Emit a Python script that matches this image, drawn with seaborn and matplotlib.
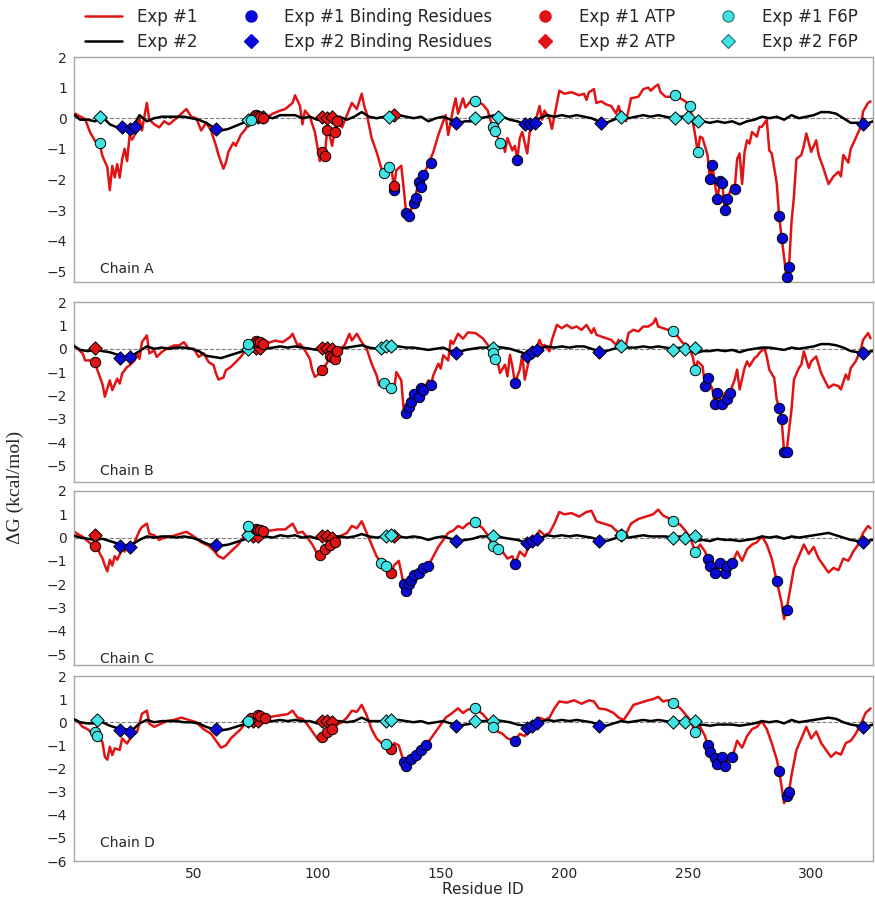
import numpy as np
import pandas as pd
import matplotlib
matplotlib.use("Agg")
import matplotlib.pyplot as plt
from matplotlib.lines import Line2D
import seaborn as sns

sns.set_style("white")
plt.rcParams["font.family"] = ["DejaVu Sans"]

# ---------------------------------------------------------------- data
CHAINS = ["A", "B", "C", "D"]

# Exp #1 per-residue binding free energy (residue, dG)
A_EXP1_RES = [1, 3, 6, 8, 10, 12, 13, 15, 16, 17, 18, 19, 20, 21, 22, 23, 24, 25, 27, 28, 29, 31, 32, 34, 36, 38, 40, 43, 47, 49,
              51, 53, 55, 57, 59, 60, 62, 63, 64, 66, 67, 69, 71, 73, 75, 79, 82, 85, 87, 90, 91, 93, 94, 95, 97, 99, 100, 101, 102, 103,
              104, 105, 106, 107, 108, 110, 112, 114, 116, 118, 119, 120, 122, 124, 126, 127, 128, 129, 130, 131, 132, 134, 135, 136, 137, 139, 140, 141, 142, 143,
              145, 146, 147, 149, 151, 152, 153, 155, 156, 157, 159, 160, 162, 164, 167, 169, 171, 172, 174, 175, 176, 177, 179, 180, 181, 182, 183, 185, 186, 188,
              190, 191, 192, 194, 195, 198, 200, 203, 206, 208, 209, 210, 212, 213, 215, 217, 219, 221, 222, 223, 225, 226, 227, 230, 232, 234, 235, 237, 238, 239,
              241, 243, 245, 247, 249, 251, 252, 253, 254, 255, 256, 258, 259, 260, 261, 262, 263, 264, 265, 266, 268, 269, 270, 271, 272, 273, 274, 275, 276, 278,
              279, 280, 282, 283, 284, 286, 287, 288, 290, 291, 292, 293, 294, 296, 297, 298, 300, 302, 303, 305, 307, 309, 311, 312, 313, 315, 316, 318, 320, 321,
              323, 324]
A_EXP1_DG = [0.2, 0.1, -0.03, -0.46, -0.74, -0.85, -1.23, -1.6, -2.35, -1.56, -1.93, -1.5, -1.94, -1.34, -1.0, -1.4, -0.58, -0.7, -0.4, 0.0, -0.4, 0.5, -0.05, -0.2, -0.3, -0.1, -0.2, 0.0, 0.3, 0.05,
             0.0, -0.4, -0.15, -0.4, -0.9, -1.2, -1.65, -1.45, -1.1, -0.8, -0.9, -0.55, -0.35, -0.05, 0.1, 0.0, 0.15, 0.25, 0.3, 0.5, 0.75, 0.4, -0.2, 0.25, 0.05, -0.45, -0.9, -1.4, -1.1, -1.25,
             -0.4, -0.55, -0.9, -0.45, -0.1, -0.3, 0.1, 0.5, 0.3, 0.8, 0.4, 0.15, -0.65, -1.1, -1.65, -1.85, -1.7, -1.6, -1.55, -2.3, -1.7, -1.55, -2.3, -3.1, -3.2, -2.78, -2.45, -2.1, -2.3, -1.85,
             -1.5, -1.3, -1.1, -0.55, -0.1, 0.1, -0.55, 0.3, 0.65, 0.15, 0.65, 0.35, 0.55, 0.57, 0.45, 0.25, -0.3, -0.42, -0.8, -0.7, -1.1, -0.65, -1.05, -0.9, -1.33, -0.65, -0.45, -1.15, -0.45, -0.2,
             0.4, -0.05, 0.25, 0.0, -0.35, 0.9, 0.8, 0.85, 0.75, 0.8, 0.6, 0.85, 0.95, 0.5, 0.55, 0.45, 0.4, 0.15, 0.4, 0.1, -0.1, 0.25, 0.65, 0.7, 0.95, 1.0, 0.9, 1.05, 1.1, 0.85,
             0.7, 0.7, 0.75, 0.65, 0.55, 0.4, -0.1, -0.55, -1.1, -0.6, -0.65, -1.2, -2.0, -1.55, -2.15, -2.65, -2.1, -2.15, -3.0, -2.65, -2.2, -2.3, -1.33, -1.15, -2.15, -1.1, -0.72, -0.83, -0.45, -0.6,
             -0.28, -0.28, -0.05, -1.05, -1.15, -2.1, -3.2, -3.9, -5.2, -4.85, -3.4, -2.55, -1.33, -1.2, -0.9, -0.5, -1.1, -0.72, -1.2, -1.65, -2.15, -1.9, -1.75, -1.9, -1.2, -1.45, -1.0, -0.65, -0.28, 0.22,
             0.5, 0.55]

B_EXP1_RES = [1, 3, 5, 6, 8, 10, 11, 13, 14, 16, 17, 19, 20, 21, 23, 24, 26, 27, 28, 29, 31, 32, 34, 35, 37, 39, 42, 44, 46, 48,
              50, 52, 54, 56, 58, 59, 60, 62, 63, 65, 67, 69, 71, 72, 75, 78, 81, 83, 86, 89, 90, 92, 93, 95, 97, 98, 99, 101, 102, 104,
              105, 106, 107, 108, 109, 111, 113, 114, 116, 118, 120, 122, 124, 125, 127, 128, 130, 131, 132, 134, 135, 136, 137, 138, 139, 141, 142, 143, 145, 146,
              147, 149, 150, 151, 153, 154, 155, 157, 159, 161, 164, 167, 169, 171, 172, 173, 174, 176, 177, 178, 179, 180, 182, 183, 184, 186, 187, 188, 190, 191,
              192, 194, 195, 197, 199, 201, 203, 205, 207, 209, 211, 212, 213, 215, 217, 219, 221, 222, 223, 225, 226, 228, 230, 232, 234, 236, 237, 238, 240, 242,
              244, 246, 248, 250, 252, 253, 254, 256, 257, 258, 260, 261, 262, 264, 265, 266, 267, 269, 270, 271, 273, 274, 275, 277, 278, 279, 281, 282, 283, 285,
              286, 287, 288, 289, 290, 291, 292, 293, 295, 296, 297, 299, 300, 302, 304, 307, 309, 311, 312, 314, 315, 316, 318, 320, 321, 323, 324]
B_EXP1_DG = [0.14, 0.0, -0.2, -0.5, -0.5, -0.57, -0.92, -1.5, -2.05, -1.35, -1.77, -1.28, -1.49, -1.06, -0.78, -0.71, -0.5, -0.2, -0.43, 0.28, 0.57, -0.2, -0.07, -0.35, -0.14, 0.0, 0.14, 0.14, 0.28, 0.0,
             0.0, -0.35, -0.2, -0.57, -0.7, -1.06, -1.32, -1.23, -0.92, -0.78, -0.57, -0.35, -0.07, 0.2, 0.35, 0.21, 0.28, 0.35, 0.28, 0.5, 0.64, 0.14, 0.21, -0.07, -0.43, -0.92, -1.2, -1.06, -0.92, -0.6,
             -0.3, -0.35, -0.45, -0.1, 0.0, 0.14, 0.64, 0.35, 0.64, 0.28, 0.0, -0.64, -1.13, -1.56, -1.45, -1.56, -1.7, -1.84, -1.0, -1.35, -2.62, -2.75, -2.5, -2.27, -1.92, -2.06, -1.7, -1.77, -1.35, -1.56,
             -1.13, -0.64, -0.85, -0.28, -0.5, 0.35, 0.21, 0.64, 0.43, 0.7, 0.67, 0.45, 0.17, -0.18, -0.45, -0.54, -1.04, -0.68, -1.18, -0.26, -0.75, -1.46, -0.89, -0.26, -1.32, -0.33, 0.03, -0.18, 0.38, 0.1,
             0.17, -0.11, 0.38, 1.02, 0.88, 1.02, 0.88, 0.95, 0.81, 1.02, 0.67, 0.88, 0.6, 0.52, 0.45, 0.38, 0.17, 0.38, -0.04, 0.17, 0.67, 0.81, 0.74, 0.95, 0.95, 1.09, 1.3, 0.95, 0.88, 0.81,
             0.74, 0.52, 0.24, 0.17, -0.33, -0.89, -0.54, -0.75, -1.6, -1.25, -1.74, -2.38, -1.89, -2.38, -1.89, -2.17, -1.89, -1.32, -0.89, -1.74, -0.82, -0.54, -0.75, -0.4, -0.33, -0.18, 0.03, -0.33, -0.89, -1.25,
             -2.17, -2.52, -3.02, -4.4, -4.4, -3.5, -2.6, -1.32, -0.82, -0.68, -0.11, -0.82, -0.54, -0.33, -1.04, -1.67, -1.53, -1.6, -1.74, -1.1, -1.32, -0.82, -0.54, -0.04, 0.38, 0.67, 0.45]

C_EXP1_RES = [1, 3, 5, 8, 10, 11, 12, 13, 14, 15, 16, 17, 18, 19, 21, 22, 23, 25, 27, 28, 29, 31, 32, 34, 36, 38, 41, 44, 47, 50,
              53, 56, 58, 60, 62, 64, 66, 68, 70, 72, 75, 78, 81, 84, 87, 90, 92, 94, 96, 98, 100, 101, 103, 105, 107, 109, 112, 114, 116, 118,
              120, 122, 124, 126, 128, 130, 131, 133, 135, 136, 137, 139, 141, 143, 145, 147, 149, 151, 153, 155, 157, 159, 161, 164, 167, 169, 171, 173, 175, 177,
              179, 180, 182, 184, 186, 188, 190, 192, 194, 196, 198, 200, 203, 206, 209, 211, 213, 216, 219, 221, 223, 225, 227, 230, 233, 236, 238, 240, 242, 244,
              247, 249, 251, 253, 255, 257, 258, 259, 260, 261, 263, 265, 266, 268, 270, 272, 274, 276, 278, 280, 282, 284, 286, 288, 289, 290, 291, 293, 295, 297,
              299, 301, 303, 305, 307, 309, 311, 313, 315, 317, 319, 321, 323, 324]
C_EXP1_DG = [0.3, 0.15, 0.04, -0.24, -0.36, -0.4, -0.7, -0.88, -1.2, -1.45, -0.95, -1.2, -0.8, -0.95, -0.5, -0.6, -0.3, -0.45, 0.04, 0.3, 0.45, 0.6, 0.16, 0.1, -0.1, 0.0, 0.05, 0.15, 0.25, 0.05,
             -0.2, -0.35, -0.55, -0.8, -0.9, -0.7, -0.5, -0.3, 0.0, 0.5, 0.35, 0.3, 0.3, 0.35, 0.35, 0.6, 0.2, 0.25, 0.0, -0.3, -0.7, -0.75, -0.5, -0.3, -0.2, 0.05, 0.2, 0.5, 0.4, 0.7,
             0.2, -0.3, -0.8, -1.1, -1.2, -1.5, -1.2, -1.0, -2.0, -2.3, -2.0, -1.6, -1.5, -1.3, -1.2, -0.8, -0.4, -0.1, 0.2, 0.3, 0.5, 0.4, 0.6, 0.65, 0.4, 0.1, -0.35, -0.5, -0.6, -0.9,
             -0.8, -1.15, -0.6, -0.8, -0.3, -0.1, 0.3, 0.1, 0.2, 0.6, 1.1, 1.0, 1.05, 0.9, 1.1, 1.15, 0.7, 0.6, 0.5, 0.3, 0.1, 0.15, 0.6, 0.8, 0.9, 1.0, 1.2, 0.95, 0.85, 0.7,
             0.55, 0.3, 0.0, -0.6, -0.3, -0.6, -0.9, -1.2, -1.0, -1.5, -1.1, -1.5, -1.2, -1.1, -0.6, -1.0, -0.5, -0.3, -0.2, 0.05, -0.3, -0.9, -1.85, -2.8, -3.5, -3.1, -2.5, -1.3, -0.8, -0.3,
             -0.7, -0.4, -0.9, -1.2, -1.5, -1.3, -1.4, -0.9, -1.0, -0.6, -0.3, 0.2, 0.5, 0.4]

D_EXP1_RES = [1, 3, 5, 7, 9, 10, 11, 13, 14, 15, 16, 17, 18, 20, 21, 23, 25, 27, 28, 29, 31, 32, 34, 36, 39, 42, 45, 48, 51, 54,
              57, 59, 61, 63, 65, 67, 69, 71, 73, 76, 79, 82, 85, 88, 90, 92, 94, 96, 98, 100, 102, 104, 106, 108, 110, 112, 114, 116, 118, 120,
              122, 124, 126, 128, 130, 131, 133, 135, 136, 138, 140, 142, 144, 146, 148, 150, 152, 154, 157, 159, 161, 164, 167, 169, 171, 173, 175, 177, 180, 182,
              184, 186, 188, 190, 192, 194, 196, 198, 201, 204, 207, 210, 212, 214, 217, 220, 222, 224, 226, 228, 231, 234, 236, 238, 240, 242, 244, 247, 249, 251,
              253, 255, 257, 258, 259, 260, 261, 262, 264, 265, 266, 268, 270, 272, 274, 276, 278, 280, 282, 284, 286, 287, 289, 290, 291, 292, 294, 296, 298, 300,
              302, 304, 306, 308, 310, 312, 314, 316, 318, 320, 322, 324]
D_EXP1_DG = [0.16, 0.05, -0.2, -0.3, -0.5, -0.42, -0.6, -0.85, -1.5, -1.62, -1.06, -1.42, -1.13, -1.2, -0.7, -0.92, -0.56, -0.42, -0.06, 0.37, 0.5, -0.06, -0.2, -0.1, 0.05, 0.1, 0.2, 0.1, 0.0, -0.3,
             -0.5, -0.8, -1.1, -1.0, -0.7, -0.5, -0.3, 0.0, 0.2, 0.3, 0.2, 0.25, 0.3, 0.35, 0.5, 0.2, 0.15, -0.1, -0.4, -0.7, -0.65, -0.4, -0.3, -0.1, 0.0, 0.2, 0.5, 0.45, 0.75, 0.3,
             -0.3, -0.7, -0.9, -0.95, -1.15, -0.9, -1.0, -1.7, -1.9, -1.6, -1.4, -1.2, -1.0, -0.7, -0.4, -0.1, 0.2, 0.35, 0.6, 0.4, 0.55, 0.6, 0.35, 0.1, -0.2, -0.4, -0.5, -0.7, -0.8, -0.5,
             -0.6, -0.3, -0.1, 0.2, 0.1, 0.2, 0.6, 0.9, 0.85, 0.95, 0.8, 0.95, 0.9, 0.6, 0.55, 0.4, 0.2, 0.1, 0.4, 0.75, 0.85, 0.95, 1.0, 1.1, 0.9, 0.95, 0.85, 0.6, 0.35, 0.1,
             -0.4, -0.2, -0.6, -1.0, -1.3, -1.2, -1.55, -1.8, -1.5, -1.9, -1.6, -1.5, -0.8, -1.1, -0.6, -0.3, -0.2, 0.05, -0.3, -0.9, -1.6, -2.1, -3.5, -3.2, -3.0, -2.3, -1.2, -0.7, -0.2, -0.7,
             -0.4, -0.9, -1.2, -1.5, -1.3, -1.4, -0.9, -0.8, -0.5, -0.1, 0.4, 0.6]

# Exp #2 on a regular residue grid (every third residue, 1..325)
EXP2_RES = list(range(1, 326, 3))
A_EXP2_DG = [0.15, -0.05, -0.05, -0.10, 0.05, -0.20, -0.30, -0.30, -0.35, 0.10,
             -0.10, 0.00, 0.05, 0.05, 0.05, 0.05, 0.00, -0.05, -0.15, -0.30,
             -0.40, -0.35, -0.25, -0.15, -0.05, 0.05, 0.05, 0.00, 0.10, 0.10,
             0.10, 0.00, 0.05, -0.05, -0.05, 0.00, 0.05, -0.05, 0.05, 0.20,
             0.05, 0.00, 0.05, 0.05, 0.10, 0.05, 0.00, 0.05, -0.10, 0.00,
             0.05, -0.05, -0.15, -0.10, -0.10, 0.00, 0.05, 0.10, 0.05, -0.05,
             -0.10, -0.20, -0.20, 0.00, 0.10, 0.05, 0.10, 0.05, 0.10, 0.05,
             0.00, -0.10, -0.15, -0.05, 0.05, 0.00, 0.05, 0.10, 0.05, 0.10,
             0.05, 0.00, 0.05, 0.05, -0.20, -0.10, -0.15, -0.10, -0.15, -0.10,
             -0.20, -0.10, -0.05, 0.05, 0.00, 0.05, -0.05, 0.10, 0.00, 0.05,
             0.10, 0.20, 0.20, 0.15, 0.00, -0.15, -0.15, -0.20, -0.10]
B_EXP2_DG = [0.15, -0.05, -0.10, -0.05, -0.10, -0.15, -0.25, -0.35, -0.30, -0.10,
             0.10, 0.00, 0.05, 0.00, 0.05, 0.05, 0.00, -0.10, -0.30, -0.35,
             -0.40, -0.30, -0.20, -0.10, 0.00, 0.05, 0.00, 0.05, 0.10, 0.05,
             0.10, 0.05, 0.00, -0.05, 0.00, 0.05, 0.00, 0.05, 0.10, 0.15,
             0.05, 0.00, 0.05, 0.05, 0.10, 0.05, 0.05, 0.00, -0.05, 0.00,
             0.05, -0.10, -0.15, -0.05, 0.00, 0.05, 0.05, 0.10, 0.05, 0.00,
             -0.10, -0.20, -0.15, 0.00, 0.10, 0.05, 0.10, 0.05, 0.10, 0.10,
             0.00, -0.10, -0.10, 0.00, 0.05, 0.05, 0.05, 0.10, 0.05, 0.10,
             0.05, 0.00, 0.05, 0.00, -0.20, -0.10, -0.10, -0.05, -0.10, -0.05,
             -0.15, -0.05, 0.00, 0.05, 0.05, 0.00, -0.05, 0.05, 0.00, 0.05,
             0.10, 0.20, 0.20, 0.15, 0.05, -0.10, -0.15, -0.15, -0.10]
C_EXP2_DG = [0.10, 0.00, -0.05, -0.10, -0.05, -0.15, -0.25, -0.35, -0.30, -0.10,
             0.05, 0.00, 0.05, 0.05, 0.00, 0.05, 0.00, -0.10, -0.25, -0.35,
             -0.35, -0.30, -0.20, -0.10, 0.00, 0.05, 0.05, 0.00, 0.10, 0.05,
             0.10, 0.00, 0.05, -0.05, 0.00, 0.05, 0.05, 0.00, 0.05, 0.15,
             0.05, 0.00, 0.05, 0.10, 0.05, 0.00, 0.05, 0.00, -0.10, 0.00,
             0.05, -0.05, -0.15, -0.10, -0.05, 0.05, 0.05, 0.10, 0.00, -0.05,
             -0.10, -0.20, -0.20, -0.05, 0.10, 0.05, 0.10, 0.05, 0.10, 0.05,
             0.00, -0.10, -0.15, -0.05, 0.05, 0.00, 0.05, 0.10, 0.05, 0.05,
             0.05, 0.00, 0.05, 0.00, -0.15, -0.10, -0.15, -0.05, -0.10, -0.10,
             -0.15, -0.10, -0.05, 0.05, 0.00, 0.05, -0.05, 0.05, 0.00, 0.05,
             0.10, 0.15, 0.20, 0.10, 0.00, -0.10, -0.15, -0.15, -0.10]
D_EXP2_DG = [0.15, 0.00, -0.05, -0.05, 0.00, -0.15, -0.25, -0.30, -0.35, -0.05,
             0.10, 0.00, 0.05, 0.05, 0.05, 0.00, 0.00, -0.05, -0.20, -0.30,
             -0.35, -0.30, -0.20, -0.10, 0.00, 0.05, 0.05, 0.05, 0.10, 0.05,
             0.10, 0.05, 0.05, -0.05, 0.00, 0.05, 0.05, 0.00, 0.05, 0.20,
             0.05, 0.05, 0.05, 0.05, 0.10, 0.05, 0.00, 0.05, -0.05, 0.00,
             0.05, -0.05, -0.15, -0.10, -0.05, 0.05, 0.05, 0.10, 0.05, 0.00,
             -0.10, -0.15, -0.20, 0.00, 0.10, 0.05, 0.10, 0.05, 0.10, 0.05,
             0.00, -0.10, -0.15, -0.05, 0.05, 0.00, 0.05, 0.10, 0.05, 0.10,
             0.05, 0.00, 0.05, 0.05, -0.15, -0.10, -0.15, -0.10, -0.10, -0.10,
             -0.15, -0.10, -0.05, 0.05, 0.00, 0.05, -0.05, 0.10, 0.00, 0.05,
             0.10, 0.15, 0.20, 0.15, 0.00, -0.10, -0.15, -0.20, -0.10]

# Exp #1 highlighted residues: (residue list, dG list)
A_EXP1_BIND = ([131, 136, 137, 139, 140, 141, 142, 143, 146, 181, 259, 260, 262, 263, 264, 265, 266, 269, 287, 288, 290, 291],
               [-2.35, -3.1, -3.2, -2.78, -2.6, -2.07, -2.25, -1.85, -1.45, -1.35, -2.0, -1.53, -2.65, -2.05, -2.1, -3.0, -2.65, -2.3, -3.2, -3.9, -5.2, -4.85])
A_EXP1_ATP = ([75, 76, 77, 78, 102, 103, 104, 107, 108, 131],
              [0.1, 0.07, 0.03, 0.0, -1.1, -1.25, -0.4, -0.45, -0.1, -2.2])
A_EXP1_F6P = ([12, 73, 127, 129, 164, 171, 172, 174, 245, 251, 254],
              [-0.82, -0.05, -1.8, -1.6, 0.57, -0.3, -0.42, -0.8, 0.75, 0.4, -1.1])

B_EXP1_BIND = ([136, 137, 138, 139, 141, 142, 143, 146, 180, 257, 258, 261, 262, 264, 266, 267, 287, 288, 289, 290],
               [-2.75, -2.5, -2.27, -1.92, -2.06, -1.7, -1.77, -1.56, -1.46, -1.6, -1.25, -2.38, -1.89, -2.38, -2.17, -1.89, -2.52, -3.02, -4.4, -4.4])
B_EXP1_ATP = ([10, 75, 76, 77, 78, 102, 105, 106, 107, 108],
              [-0.57, 0.35, 0.3, 0.27, 0.21, -0.92, -0.3, -0.35, -0.45, -0.1])
B_EXP1_F6P = ([72, 127, 130, 171, 172, 244, 253],
              [0.2, -1.45, -1.7, -0.18, -0.45, 0.74, -0.89])

C_EXP1_BIND = ([135, 136, 137, 138, 139, 141, 143, 145, 180, 258, 259, 261, 263, 265, 266, 268, 286, 290],
               [-2.0, -2.3, -2.0, -1.8, -1.6, -1.5, -1.3, -1.2, -1.15, -0.9, -1.2, -1.5, -1.1, -1.5, -1.2, -1.1, -1.85, -3.1])
C_EXP1_ATP = ([10, 75, 76, 77, 78, 101, 103, 105, 107, 130],
              [-0.36, 0.35, 0.33, 0.32, 0.3, -0.75, -0.5, -0.3, -0.2, -1.5])
C_EXP1_F6P = ([72, 126, 128, 164, 171, 173, 223, 244, 253],
              [0.5, -1.1, -1.2, 0.65, -0.35, -0.5, 0.1, 0.7, -0.6])

D_EXP1_BIND = ([135, 136, 138, 140, 142, 144, 180, 258, 259, 261, 262, 264, 265, 268, 287, 290, 291],
               [-1.7, -1.9, -1.6, -1.4, -1.2, -1.0, -0.8, -1.0, -1.3, -1.55, -1.8, -1.5, -1.9, -1.5, -2.1, -3.2, -3.0])
D_EXP1_ATP = ([73, 76, 77, 79, 102, 104, 106, 130],
              [0.2, 0.3, 0.27, 0.2, -0.65, -0.4, -0.3, -1.15])
D_EXP1_F6P = ([10, 11, 72, 128, 164, 171, 244, 253],
              [-0.42, -0.6, 0.05, -0.95, 0.6, -0.2, 0.85, -0.4])

# Exp #2 highlighted residues
A_EXP2_BIND = ([21, 24, 26, 59, 156, 184, 186, 188, 215, 321],
               [-0.3, -0.35, -0.3, -0.35, -0.15, -0.2, -0.2, -0.15, -0.15, -0.2])
A_EXP2_ATP = ([74, 76, 78, 102, 104, 106, 131], [0.05, 0.05, 0.05, 0.05, 0.0, 0.05, 0.1])
A_EXP2_F6P = ([12, 72, 129, 164, 173, 223, 245, 250, 254], [0.05, -0.05, 0.05, 0.0, 0.05, 0.05, 0.0, 0.05, -0.1])

B_EXP2_BIND = ([20, 24, 156, 185, 187, 189, 214, 321], [-0.4, -0.35, -0.2, -0.3, -0.15, -0.05, -0.15, -0.2])
B_EXP2_ATP = ([10, 75, 77, 102, 104, 106], [0.05, 0.05, 0.05, 0.05, 0.05, 0.0])
B_EXP2_F6P = ([72, 126, 128, 130, 171, 223, 244, 249, 253], [0.0, 0.05, 0.1, 0.1, 0.05, 0.1, -0.05, 0.0, 0.05])

C_EXP2_BIND = ([20, 24, 59, 156, 185, 187, 189, 214, 321], [-0.35, -0.4, -0.3, -0.15, -0.25, -0.15, -0.05, -0.15, -0.2])
C_EXP2_ATP = ([10, 74, 76, 102, 104, 106, 131], [0.1, 0.05, 0.05, 0.05, 0.05, 0.0, 0.05])
C_EXP2_F6P = ([72, 128, 130, 171, 223, 244, 249, 253], [0.1, 0.05, 0.1, 0.05, 0.1, 0.0, 0.0, 0.05])

D_EXP2_BIND = ([20, 24, 59, 156, 185, 187, 189, 214, 321], [-0.35, -0.4, -0.3, -0.15, -0.25, -0.15, -0.05, -0.15, -0.2])
D_EXP2_ATP = ([74, 76, 102, 104, 106], [0.05, 0.05, 0.05, 0.05, 0.0])
D_EXP2_F6P = ([11, 72, 128, 130, 164, 171, 244, 249, 253], [0.1, 0.05, 0.05, 0.1, 0.05, 0.05, 0.0, 0.0, 0.05])

YLIMS = {"A": (-5.35, 2), "B": (-5.7, 2), "C": (-5.47, 2), "D": (-6, 2)}
LABEL_Y = {"A": -4.92, "B": -5.22, "C": -5.2, "D": -5.2}
XTICKS = [50, 100, 150, 200, 250, 300]

# ---------------------------------------------------------------- style
RED = "#e01414"
BLUE = "#0a0ad6"
CYAN = "#3fe3e3"
SPINE = "#a6a6a6"

series = {
    "A": (A_EXP1_RES, A_EXP1_DG, A_EXP2_DG, A_EXP1_BIND, A_EXP1_ATP, A_EXP1_F6P, A_EXP2_BIND, A_EXP2_ATP, A_EXP2_F6P),
    "B": (B_EXP1_RES, B_EXP1_DG, B_EXP2_DG, B_EXP1_BIND, B_EXP1_ATP, B_EXP1_F6P, B_EXP2_BIND, B_EXP2_ATP, B_EXP2_F6P),
    "C": (C_EXP1_RES, C_EXP1_DG, C_EXP2_DG, C_EXP1_BIND, C_EXP1_ATP, C_EXP1_F6P, C_EXP2_BIND, C_EXP2_ATP, C_EXP2_F6P),
    "D": (D_EXP1_RES, D_EXP1_DG, D_EXP2_DG, D_EXP1_BIND, D_EXP1_ATP, D_EXP1_F6P, D_EXP2_BIND, D_EXP2_ATP, D_EXP2_F6P),
}

W, H = 875, 897
fig = plt.figure(figsize=(W / 100, H / 100), dpi=100)

# panel boxes in pixels: (top, bottom)
BOXES = {"A": (57, 282), "B": (302, 482), "C": (491, 665), "D": (676, 861)}
LEFT, RIGHT = 74, 873

MS_CIRCLE = 56
MS_DIAMOND = 46


def scatter(ax, pts, marker, color, size, z):
    res, dg = pts
    sns.scatterplot(x=res, y=dg, ax=ax, marker=marker, s=size, color=color,
                    edgecolor="black", linewidth=0.7, zorder=z, legend=False)


axes = []
for ch in CHAINS:
    top, bottom = BOXES[ch]
    ax = fig.add_axes([LEFT / W, 1 - bottom / H, (RIGHT - LEFT) / W, (bottom - top) / H])
    axes.append(ax)
    (r1, d1, d2, b1, a1, f1, b2, a2, f2) = series[ch]

    ax.axhline(0, color="#7f7f7f", lw=0.8, ls="--", zorder=1)
    sns.lineplot(x=r1, y=d1, ax=ax, color=RED, linewidth=1.8, estimator=None, legend=False, zorder=2)
    sns.lineplot(x=EXP2_RES, y=d2, ax=ax, color="black", linewidth=1.8, estimator=None, legend=False, zorder=3)

    scatter(ax, b2, "D", BLUE, MS_DIAMOND, 4)
    scatter(ax, a2, "D", RED, MS_DIAMOND, 4)
    scatter(ax, f2, "D", CYAN, MS_DIAMOND, 4)
    scatter(ax, b1, "o", BLUE, MS_CIRCLE, 5)
    scatter(ax, a1, "o", RED, MS_CIRCLE, 5)
    scatter(ax, f1, "o", CYAN, MS_CIRCLE, 5)

    lo, hi = YLIMS[ch]
    ax.set_xlim(1.5, 325)
    ax.set_ylim(lo, hi)
    ax.set_yticks(list(range(int(np.ceil(lo)), 3)))
    ax.set_xticks(XTICKS)
    ax.set_xlabel("")
    ax.set_ylabel("")
    for sp in ax.spines.values():
        sp.set_color(SPINE)
        sp.set_linewidth(1.0)
    ax.tick_params(axis="y", labelsize=10, length=3, color=SPINE, pad=2)
    ax.tick_params(axis="x", labelsize=10, length=3, color=SPINE, pad=1)
    if ch != "D":
        ax.tick_params(axis="x", bottom=False, labelbottom=False)
    ax.text(12, LABEL_Y[ch], f"Chain {ch}", fontsize=10, ha="left", va="center")

fig.text(483 / W, 1 - 889 / H, "Residue ID", ha="center", va="center", fontsize=11)

fig.text(15 / W, 1 - 487 / H, "\u0394G (kcal/mol)", rotation=90, ha="center", va="center",
         fontsize=14, family=["Liberation Serif", "DejaVu Serif"])

handles = [
    Line2D([], [], color=RED, lw=1.8, label="Exp #1"),
    Line2D([], [], color="black", lw=1.8, label="Exp #2"),
    Line2D([], [], ls="", marker="o", ms=8, color=BLUE, mec=BLUE, label="Exp #1 Binding Residues"),
    Line2D([], [], ls="", marker="D", ms=7.5, color=BLUE, mec=BLUE, label="Exp #2 Binding Residues"),
    Line2D([], [], ls="", marker="o", ms=8, color=RED, mec=RED, label="Exp #1 ATP"),
    Line2D([], [], ls="", marker="D", ms=7.5, color=RED, mec=RED, label="Exp #2 ATP"),
    Line2D([], [], ls="", marker="o", ms=8, color=CYAN, mec="#207070", mew=0.8, label="Exp #1 F6P"),
    Line2D([], [], ls="", marker="D", ms=7.5, color=CYAN, mec="#207070", mew=0.8, label="Exp #2 F6P"),
]
fig.legend(handles=handles, ncol=4, loc="upper left", bbox_to_anchor=(85 / W, 1 - 8 / H),
           frameon=False, fontsize=12, handlelength=2.2, handletextpad=0.9,
           columnspacing=2.1, labelspacing=0.4, borderpad=0, borderaxespad=0)

fig.savefig("out.png", dpi=100)
